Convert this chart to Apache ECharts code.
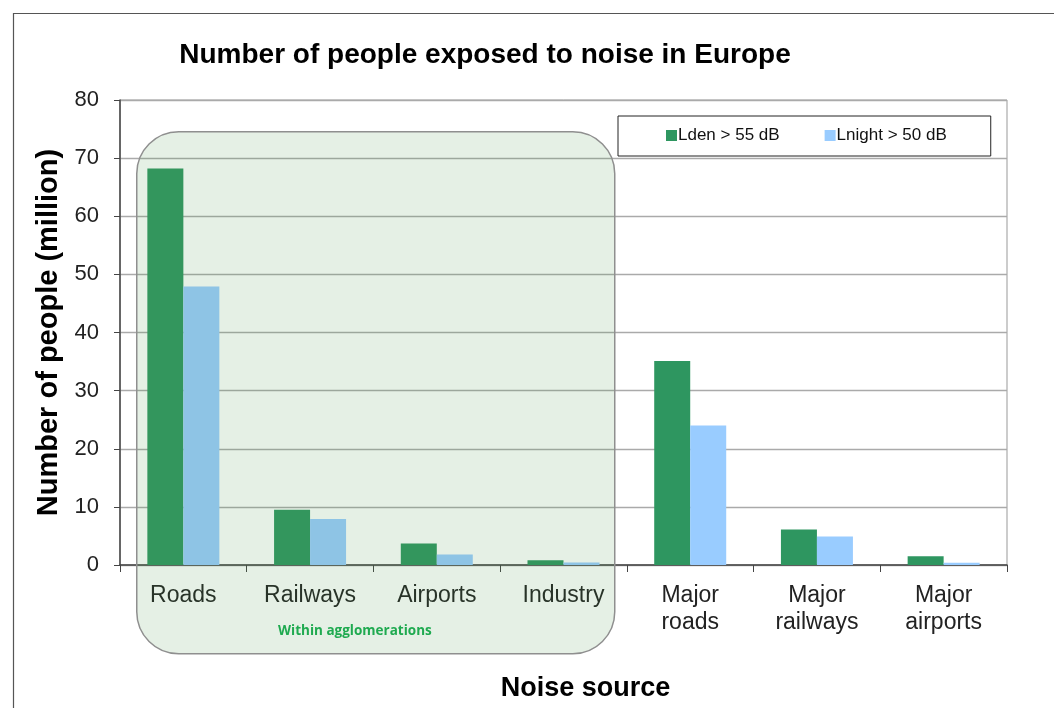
<!DOCTYPE html>
<html>
<head>
<meta charset="utf-8">
<script src="https://cdn.jsdelivr.net/npm/echarts@6/dist/echarts.min.js"></script>
<style>
  html, body { margin: 0; padding: 0; background: #fff; overflow: hidden; }
  #chart { width: 1054px; height: 708px; }
</style>
</head>
<body>
<div id="chart"></div>
<script>
const categories = ["Roads", "Railways", "Airports", "Industry", "Major\nroads", "Major\nrailways", "Major\nairports"];
const ldenValues = [68.2, 9.5, 3.7, 0.8, 35.1, 6.1, 1.5];
const lnightValues = [47.9, 7.9, 1.8, 0.45, 24.0, 4.9, 0.4];
const yTicks = { min: 0, max: 80, interval: 10 };

const chart = echarts.init(document.getElementById("chart"));

const font = "Liberation Sans, Arial, sans-serif";

const option = {
  animation: false,
  title: {
    text: "Number of people exposed to noise in Europe",
    left: 480,
    top: 36,
    textAlign: "center",
    textStyle: { fontFamily: font, fontSize: 28, fontWeight: "bold", color: "#000" },
  },
  legend: {
    data: [
      { name: "Lden > 55 dB", itemStyle: { color: "#2E9660" } },
      { name: "Lnight > 50 dB", itemStyle: { color: "#99CCFF" } },
    ],
    left: 618,
    top: 116,
    padding: [11, 44, 12, 48],
    itemGap: 45,
    itemWidth: 11,
    itemHeight: 11,
    icon: "rect",
    borderColor: "#222",
    borderWidth: 1,
    textStyle: { fontFamily: font, fontSize: 17, color: "#111", padding: [0, 0, 0, -4] },
  },
  grid: { left: 120, width: 887, top: 100, height: 465, show: true, borderColor: "#999", borderWidth: 1 },
  xAxis: {
    type: "category",
    data: categories,
    name: "Noise source",
    nameLocation: "middle",
    nameGap: 110,
    nameTextStyle: { fontFamily: font, fontSize: 27, fontWeight: "bold", color: "#000", padding: [0, 0, 0, 44] },
    axisLine: { lineStyle: { color: "#444", width: 1.5 } },
    axisTick: { show: true, length: 7, lineStyle: { color: "#444" } },
    axisLabel: { fontFamily: font, fontSize: 23, color: "#222", margin: 17, lineHeight: 27, interval: 0 },
  },
  yAxis: {
    type: "value",
    min: yTicks.min,
    max: yTicks.max,
    interval: yTicks.interval,
    name: "Number of people (million)",
    nameLocation: "middle",
    nameGap: 50,
    nameTextStyle: { fontFamily: font, fontSize: 29, fontWeight: "bold", color: "#000" },
    axisLine: { show: true, lineStyle: { color: "#444", width: 1.5 } },
    axisTick: { show: true, length: 6, lineStyle: { color: "#444" } },
    axisLabel: { fontFamily: font, fontSize: 22, color: "#222", margin: 21 },
    splitLine: { lineStyle: { color: "#AAA", width: 1.3 } },
  },
  series: [
    {
      name: "Lden > 55 dB",
      type: "bar",
      data: ldenValues,
      barWidth: 36,
      barGap: "0%",
      itemStyle: { color: "#2E9660" },
    },
    {
      name: "Lnight > 50 dB",
      type: "bar",
      data: lnightValues,
      barWidth: 36,
      itemStyle: { color: "#99CCFF" },
    },
  ],
  graphic: [
    {
      type: "rect",
      left: 11, top: 11,
      shape: { width: 1100, height: 800 },
      style: { fill: "none", stroke: "#555", lineWidth: 1.2 },
      silent: true,
      z: -10,
    },
    {
      type: "rect",
      left: 136, top: 131,
      shape: { width: 478, height: 522, r: 42 },
      style: { fill: "rgba(78,153,78,0.15)", stroke: "#8f8f8f", lineWidth: 1.5 },
      silent: true,
      z: 100,
    },
    {
      type: "text",
      left: 278, top: 624,
      style: { text: "Within agglomerations", fill: "#1FAA50", font: "bold 13.5px 'Open Sans', Carlito, sans-serif" },
      z: 101,
    },
  ],
};

chart.setOption(option);
</script>
</body>
</html>
